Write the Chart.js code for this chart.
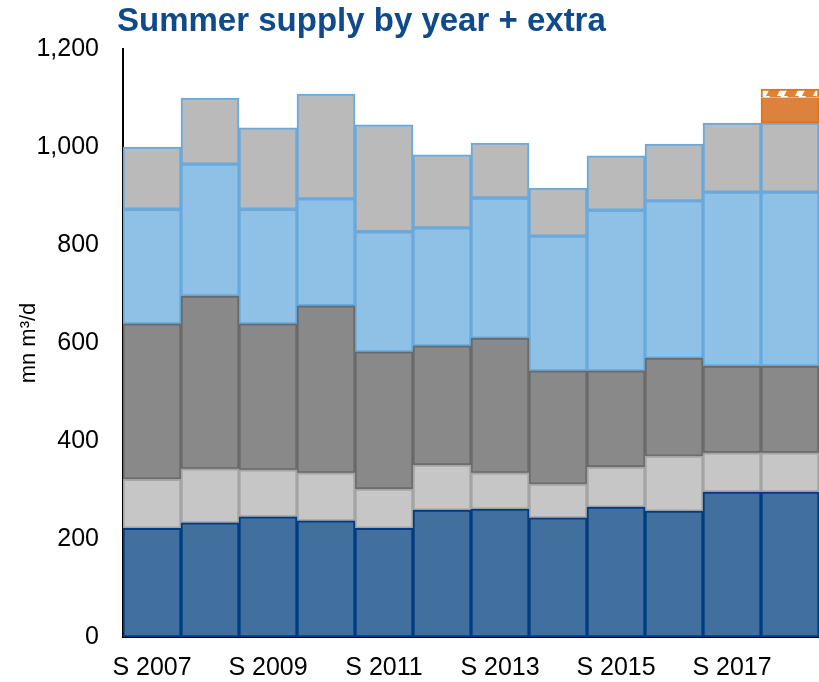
<!DOCTYPE html>
<html>
<head>
<meta charset="utf-8">
<script src="https://cdn.jsdelivr.net/npm/chart.js@4"></script>
<style>
  html, body { margin: 0; padding: 0; background: #fff; }
  #wrap { width: 819px; height: 682px; }
</style>
</head>
<body>
<div id="wrap"><canvas id="myChart" width="819" height="682"></canvas></div>
<script>
const categories = ["S 2007", "S 2008", "S 2009", "S 2010", "S 2011", "S 2012",
  "S 2013", "S 2014", "S 2015", "S 2016", "S 2017", "S 2017 + extra"];

// stacked segments, bottom to top (mn m³/d)
const baseBlue   = [222, 233, 245, 237, 222, 259, 261, 243, 265, 257, 296, 296];
const lightGrey  = [100, 110,  96,  98,  80,  92,  74,  69,  82, 112,  80,  80];
const darkGrey   = [317, 353, 298, 341, 280, 243, 275, 231, 196, 200, 177, 177];
const lightBlue  = [234, 269, 234, 218, 245, 241, 286, 275, 328, 321, 355, 355];
const topGrey    = [127, 135, 166, 214, 218, 149, 112,  98, 111, 116, 141, 141];
const extraSolid = [  0,   0,   0,   0,   0,   0,   0,   0,   0,   0,   0,  52];
const extraHatch = [  0,   0,   0,   0,   0,   0,   0,   0,   0,   0,   0,  17];

const yTicks = [0, 200, 400, 600, 800, 1000, 1200];

// hatch pattern for the top of the extra bar
function hatchPattern() {
  const c = document.createElement("canvas");
  c.width = 18; c.height = 8;
  const g = c.getContext("2d");
  g.fillStyle = "#dc823c";
  g.fillRect(0, 0, 18, 8);
  g.fillStyle = "#ffffff";
  g.beginPath();
  g.moveTo(3, 8); g.lineTo(7, 0); g.lineTo(14, 0); g.lineTo(10, 8);
  g.closePath();
  g.fill();
  return g.createPattern(c, "repeat");
}

const titlePlugin = {
  id: "titleText",
  afterDraw(chart) {
    const ctx = chart.ctx;
    ctx.save();
    ctx.font = "bold 33px 'Liberation Sans', Arial, sans-serif";
    ctx.fillStyle = "#0f4a8a";
    ctx.textBaseline = "alphabetic";
    ctx.fillText("Summer supply by year + extra", 117, 31);
    ctx.restore();
  }
};

function seg(label, data, fill, border, skip) {
  return {
    label: label,
    data: data,
    backgroundColor: fill,
    borderColor: border,
    borderWidth: 2,
    borderSkipped: skip === undefined ? false : skip
  };
}

const ctx = document.getElementById("myChart");
const chart = new Chart(ctx, {
  type: "bar",
  data: {
    labels: categories,
    datasets: [
      seg("Base", baseBlue, "#41709f", "#003c82"),
      seg("Segment 2", lightGrey, "#c6c6c6", "#a4a4a4"),
      seg("Segment 3", darkGrey, "#898989", "#6a6a6a"),
      seg("Segment 4", lightBlue, "#8fc0e6", "#6aa9dc"),
      seg("Segment 5", topGrey, "#bababa", "#6aa9dc"),
      seg("Extra", extraSolid, "#dc823c", "#e8730f", "top"),
      seg("Extra (hatched)", extraHatch, hatchPattern(), "#e8730f", "bottom")
    ]
  },
  options: {
    responsive: false,
    animation: false,
    layout: { padding: { top: 49, right: 0, left: 0, bottom: 0 } },
    datasets: { bar: { barPercentage: 1, categoryPercentage: 1 } },
    plugins: {
      legend: { display: false },
      tooltip: { enabled: false },
      title: { display: false }
    },
    scales: {
      x: {
        stacked: true,
        grid: { display: false },
        border: { display: true, color: "#000", width: 2 },
        ticks: {
          autoSkip: false,
          maxRotation: 0,
          padding: 8,
          color: "#000",
          font: { family: "'Liberation Sans', Arial, sans-serif", size: 25 },
          callback: function (v, i) { return i % 2 === 0 && i < 11 ? categories[i] : ""; }
        },
        afterFit: s => { s.height = 45; }
      },
      y: {
        stacked: true,
        min: 0,
        max: 1200,
        afterBuildTicks: s => { s.ticks = yTicks.map(v => ({ value: v })); },
        grid: { display: false },
        border: { display: true, color: "#000", width: 2 },
        ticks: {
          padding: 16,
          color: "#000",
          font: { family: "'Liberation Sans', Arial, sans-serif", size: 25 },
          callback: v => v.toLocaleString("en-US")
        },
        title: {
          display: true,
          text: "mn m³/d",
          color: "#000",
          padding: { top: 16, bottom: 0 },
          font: { family: "'Liberation Sans', Arial, sans-serif", size: 22 }
        },
        afterFit: s => { s.width = 123; }
      }
    }
  },
  plugins: [titlePlugin]
});
</script>
</body>
</html>
